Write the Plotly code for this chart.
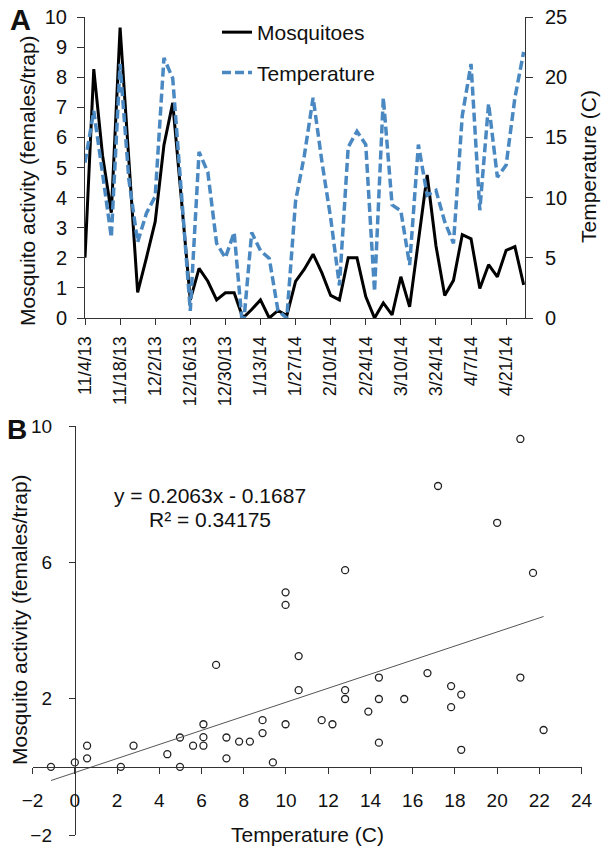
import plotly.graph_objects as go

# ---------------- data ----------------
# Panel A: time series (twice-weekly samples, label every 4th sample)
tick_labels = ["11/4/13", "11/18/13", "12/2/13", "12/16/13", "12/30/13", "1/13/14",
               "1/27/14", "2/10/14", "2/24/14", "3/10/14", "3/24/14", "4/7/14", "4/21/14"]
mosquitoes = [2.0, 8.27, 5.4, 3.5, 9.65, 5.2, 0.85, 2.0, 3.2, 5.75,
              7.15, 3.9, 0.6, 1.65, 1.22, 0.6, 0.84, 0.84, 0.0, 0.28,
              0.6, 0.0, 0.25, 0.08, 1.22, 1.62, 2.12, 1.5, 0.75, 0.6,
              2.0, 2.0, 0.71, 0.0, 0.5, 0.1, 1.37, 0.37, 2.62, 4.75,
              2.4, 0.75, 1.25, 2.77, 2.63, 0.98, 1.77, 1.37, 2.25, 2.37, 1.1]
temperature = [12.9, 17.2, 12.0, 6.7, 21.1, 11.5, 6.3, 8.7, 10.1, 21.6,
               19.9, 10.0, 0.6, 13.8, 12.1, 6.2, 5.0, 7.1, -1.1, 7.1,
               5.6, 4.95, 0.6, 0.0, 9.7, 13.5, 18.3, 13.0, 8.3, 2.7,
               14.2, 15.5, 14.4, 2.2, 18.3, 9.4, 8.9, 4.4, 14.4, 10.2,
               10.6, 8.0, 6.2, 16.8, 21.1, 8.95, 17.8, 11.7, 12.7, 18.3, 22.1]
sample_index = list(range(len(mosquitoes)))
label_every = 4

# Panel B: scatter of mosquito activity vs temperature
sc_temp = [-1.13, 0, 0.58, 0.58, 2.18, 2.78, 4.38, 4.98, 4.98, 5.6,
           6.09, 6.09, 6.09, 6.69, 7.18, 7.18, 7.78, 8.29, 8.89, 8.89,
           9.38, 9.98, 9.98, 9.98, 10.6, 10.6, 11.69, 12.2, 12.8, 12.8,
           12.8, 13.9, 14.4, 14.4, 14.4, 15.6, 16.7, 17.2, 17.82, 17.82,
           18.3, 18.3, 20.0, 21.1, 21.1, 21.7, 22.2]
sc_mosq = [0, 0.13, 0.62, 0.25, 0, 0.62, 0.37, 0.86, 0, 0.62,
           1.25, 0.87, 0.62, 2.99, 0.86, 0.25, 0.74, 0.74, 1.37, 0.99,
           0.13, 5.12, 4.75, 1.25, 3.25, 2.25, 1.37, 1.25, 5.77, 2.25,
           1.99, 1.62, 2.62, 1.99, 0.71, 1.99, 2.75, 8.24, 2.37, 1.75,
           2.12, 0.5, 7.16, 9.62, 2.62, 5.69, 1.08]
slope = 0.2063
intercept = -0.1687
r_squared = 0.34175

# ---------------- figure ----------------
W, H = 602, 852
FONT = "Liberation Sans, Arial, sans-serif"
BLUE = "#4a88c2"
AX = "#333333"

def px_x(p):
    return p / W

def px_y(p):
    return 1 - p / H

fig = go.Figure()

fig.add_trace(go.Scatter(x=sample_index, y=mosquitoes, name="Mosquitoes", mode="lines",
                         line=dict(color="black", width=3), xaxis="x", yaxis="y",
                         legendgroup="m"))
fig.add_trace(go.Scatter(x=sample_index, y=temperature, name="Temperature", mode="lines",
                         line=dict(color=BLUE, width=3.5, dash="9px,4px"), xaxis="x", yaxis="y2",
                         legendgroup="t"))

fig.add_trace(go.Scatter(x=sc_temp, y=sc_mosq, mode="markers", showlegend=False,
                         marker=dict(symbol="circle-open", size=7, color="#222222",
                                     line=dict(width=1.3)),
                         xaxis="x3", yaxis="y3"))
x_lo, x_hi = min(sc_temp), max(sc_temp)
fig.add_trace(go.Scatter(x=[x_lo, x_hi], y=[slope * x_lo + intercept, slope * x_hi + intercept],
                         mode="lines", showlegend=False, line=dict(color="#555555", width=1),
                         xaxis="x3", yaxis="y3"))

tickvals = sample_index[::label_every][:len(tick_labels)]

# panel B axes geometry
bx_dom = [px_x(32.6), px_x(581.6)]
by_dom = [px_y(835), px_y(426)]
bx_rng = [-2, 24]
by_rng = [-2, 10]
xaxis3_pos = by_dom[0] + (0 - by_rng[0]) / (by_rng[1] - by_rng[0]) * (by_dom[1] - by_dom[0])
yaxis3_pos = bx_dom[0] + (0 - bx_rng[0]) / (bx_rng[1] - bx_rng[0]) * (bx_dom[1] - bx_dom[0])

common = dict(showgrid=False, zeroline=False, showline=True, linecolor=AX, linewidth=1,
              ticks="outside", tickcolor=AX, tickwidth=1, automargin=False,
              ticklabeloverflow="allow")

fig.update_layout(
    width=W, height=H, autosize=False,
    margin=dict(l=0, r=0, t=0, b=0),
    paper_bgcolor="white", plot_bgcolor="white",
    template="none",
    font=dict(family=FONT, color="#111111"),
    xaxis=dict(domain=[px_x(85), px_x(525)], range=[0, 50.15], anchor="y",
               tickvals=tickvals, ticktext=tick_labels, tickangle=-90,
               ticklen=6, tickfont=dict(size=18), ticklabelstandoff=4, **common),
    yaxis=dict(domain=[px_y(318), px_y(17)], range=[0, 10], dtick=1, anchor="x",
               ticklen=7, tickfont=dict(size=20), ticklabelstandoff=6, **common),
    yaxis2=dict(overlaying="y", side="right", range=[0, 25], dtick=5, anchor="x",
                ticklen=7, tickfont=dict(size=20), ticklabelstandoff=8, **common),
    xaxis3=dict(domain=bx_dom, range=bx_rng, tick0=-2, dtick=2, anchor="free",
                position=xaxis3_pos, ticklen=6, tickfont=dict(size=19),
                ticklabelstandoff=10, **common),
    yaxis3=dict(domain=by_dom, range=by_rng, tick0=-2, dtick=4, anchor="free",
                position=yaxis3_pos, ticklen=6, tickfont=dict(size=19),
                ticklabelstandoff=13, **common),
    legend=dict(x=px_x(217), y=px_y(12), xanchor="left", yanchor="top",
                font=dict(size=21, family=FONT, color="#111111"),
                bgcolor="rgba(0,0,0,0)", tracegroupgap=10, itemwidth=30),
    showlegend=True,
)

def ann(text, x, y, size, angle=0, bold=False):
    fig.add_annotation(text=f"<b>{text}</b>" if bold else text, x=px_x(x), y=px_y(y),
                       xref="paper", yref="paper", showarrow=False, textangle=angle,
                       xanchor="center", yanchor="middle", borderpad=0,
                       font=dict(size=size, family=FONT, color="#111111"))

ann("A", 20, 20, 29, bold=True)
ann("B", 17, 429, 28, bold=True)
ann("Mosquito activity (females/trap)", 27, 181, 21, angle=-90)
ann("Temperature (C)", 588, 167, 21, angle=-90)
ann("Mosquito activity (females/trap)", 19, 620, 21, angle=-90)
ann("Temperature (C)", 307, 834, 21)
ann(f"y = {slope:.4f}x - {abs(intercept):.4f}", 210, 495, 21)
ann(f"R² = {r_squared:.5f}", 210, 519, 21)

# remove the default 8px page margin so the figure fills the window exactly
fig.write_html("out.html", config={"displayModeBar": False},
               post_script="document.body.style.margin='0px';")
